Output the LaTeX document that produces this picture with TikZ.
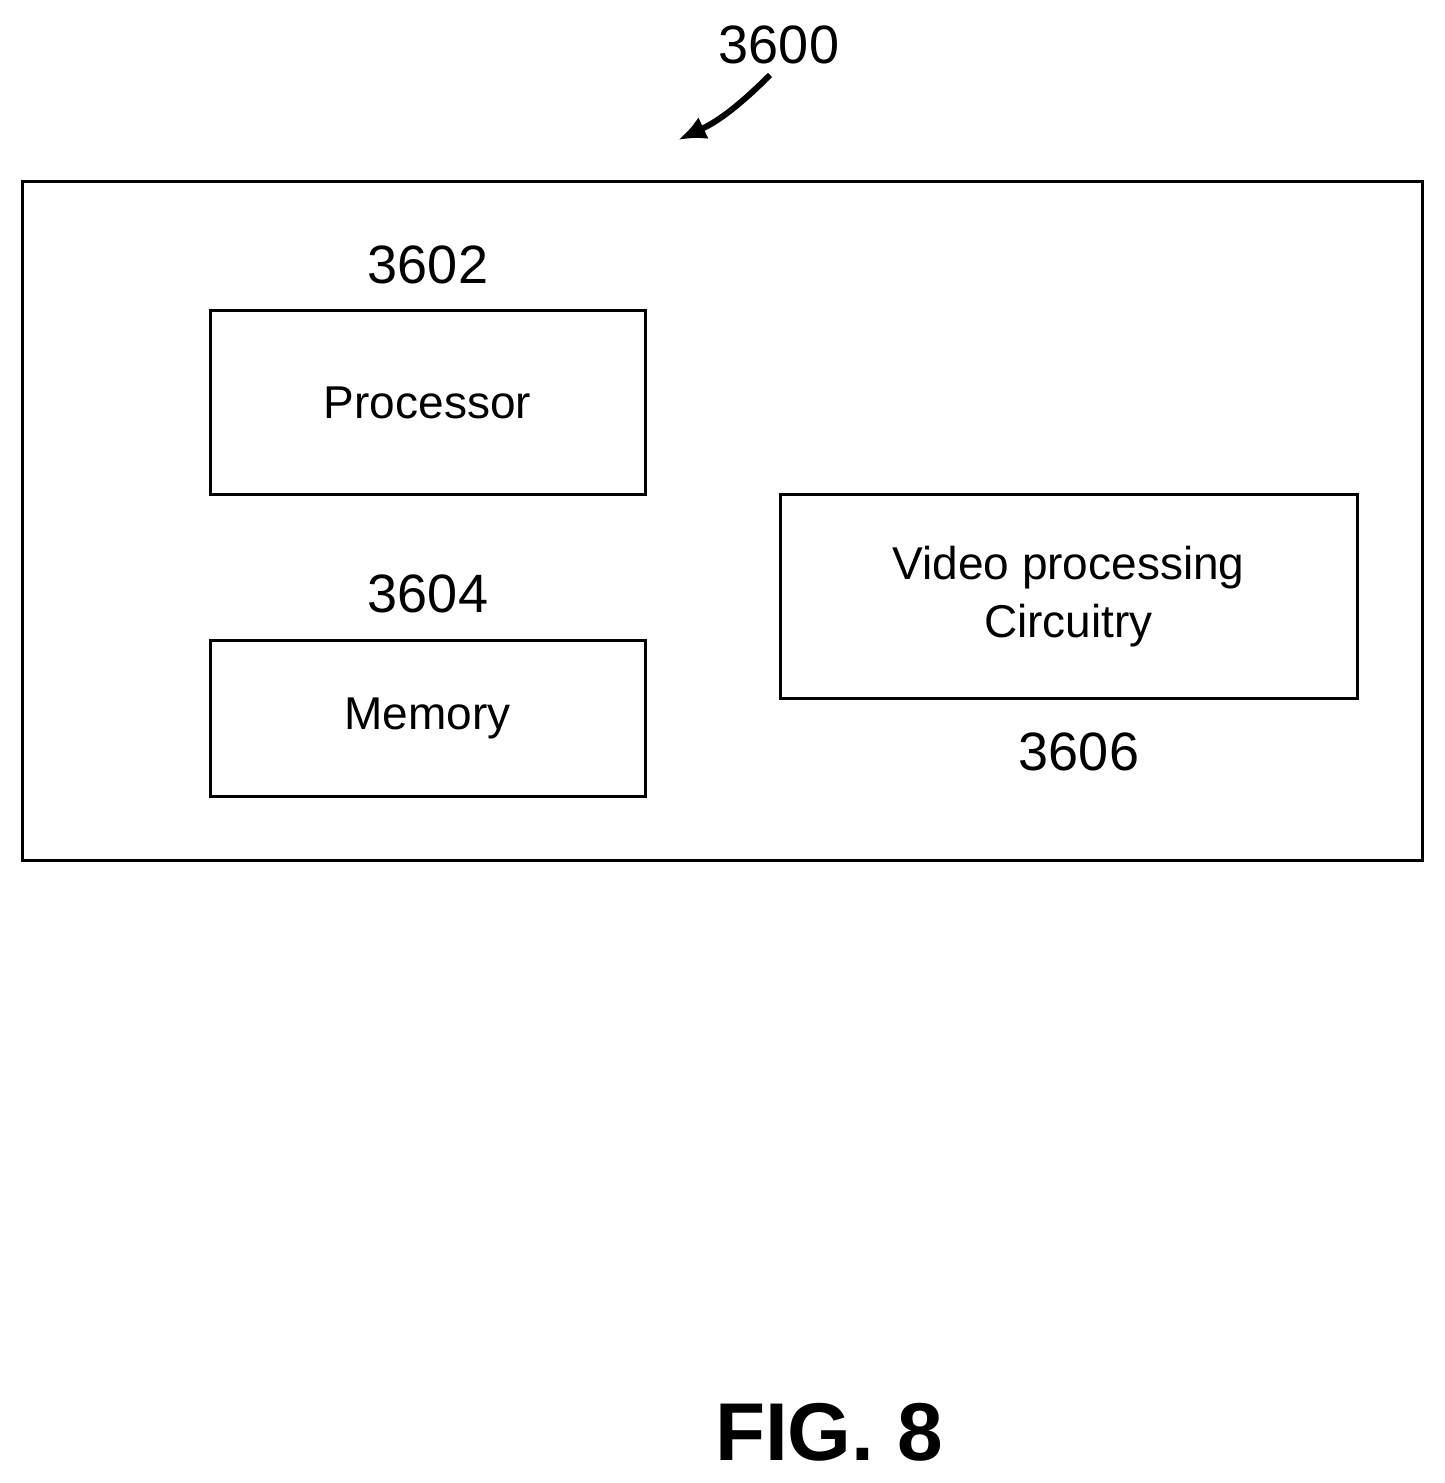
\documentclass[tikz,border=0pt]{standalone}
\usepackage{fontspec}
\setmainfont{Liberation Sans}
\usetikzlibrary{arrows.meta}
\begin{document}
\begin{tikzpicture}[x=0.5pt,y=-0.5pt,
  box/.style={draw,line width=1.5pt,inner sep=0pt},
  lbl/.style={font=\fontsize{27}{30}\selectfont},
  txt/.style={font=\fontsize{23}{29}\selectfont,align=center}]
\useasboundingbox (0,0) rectangle (1445,1483);
\node[box,minimum width=1400*0.5pt,minimum height=679*0.5pt] (outer) at (722.5,521) {};
\node[box,minimum width=435*0.5pt,minimum height=184*0.5pt] (proc) at (427.5,402.5) {};
\node[txt] at (proc) {Processor};
\node[box,minimum width=435*0.5pt,minimum height=156*0.5pt] (mem) at (427.5,718.5) {};
\node[txt] at (mem) {Memory};
\node[box,minimum width=577*0.5pt,minimum height=204*0.5pt] (vid) at (1068.5,596.5) {};
\node[txt] at (vid) {Video processing\\Circuitry};
\node[lbl] (l3600) at (779,45) {3600};
\node[lbl] (l3602) at (428,265) {3602};
\node[lbl] (l3604) at (428,594) {3604};
\node[lbl] (l3606) at (1079,752) {3606};
\node[font=\fontsize{41}{45}\selectfont\bfseries] (fig) at (829,1432) {FIG. 8};
\coordinate (a0) at (770,75);
\coordinate (a1) at (678,140);
\draw[line width=3pt,-{Latex[length=14pt,width=12pt]}] (a0) .. controls (730,115) and (710,125) .. (a1);
\end{tikzpicture}
\end{document}
